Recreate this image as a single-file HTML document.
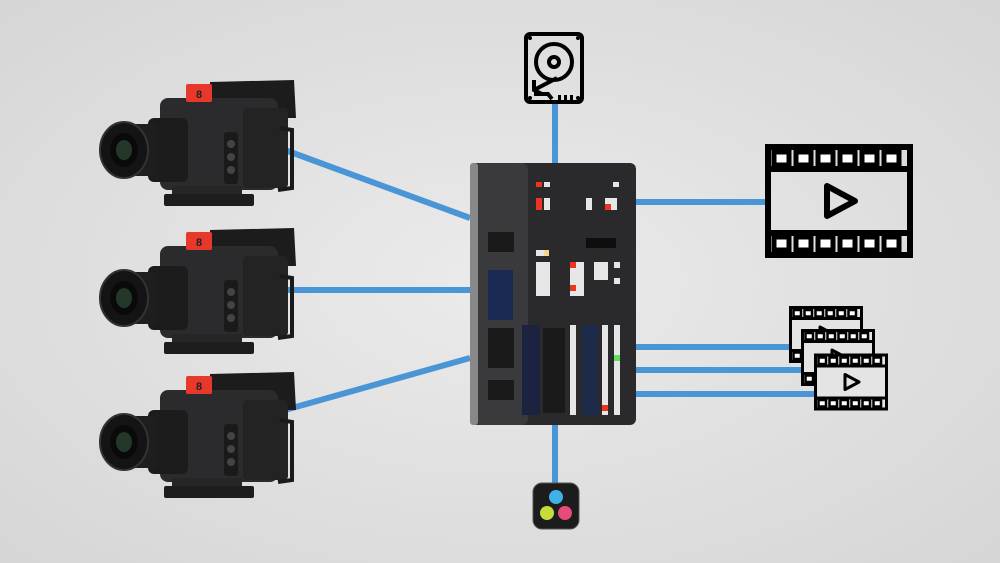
<!DOCTYPE html>
<html><head><meta charset="utf-8"><style>
html,body{margin:0;padding:0;width:1000px;height:563px;overflow:hidden;background:#e2e2e2}
</style></head><body>
<svg width="1000" height="563" viewBox="0 0 1000 563" xmlns="http://www.w3.org/2000/svg">
<defs>
<radialGradient id="bg" cx="50%" cy="50%" r="70%"><stop offset="0" stop-color="#ebebeb"/><stop offset="1" stop-color="#d6d6d6"/></radialGradient>
<symbol id="cam" viewBox="0 0 200 130">
  <path d="M112 4 L196 2 L198 40 L112 40 Z" fill="#1c1c1d"/>
  <rect x="62" y="20" width="118" height="92" rx="8" fill="#2b2b2d"/>
  <rect x="88" y="6" width="26" height="18" rx="2" fill="#e8382a"/>
  <text x="101" y="20" font-family="Liberation Sans, sans-serif" font-size="11" font-weight="bold" text-anchor="middle" fill="#222">8</text>
  <rect x="126" y="54" width="14" height="52" rx="3" fill="#1a1a1a"/>
  <circle cx="133" cy="66" r="4" fill="#444"/><circle cx="133" cy="79" r="4" fill="#444"/><circle cx="133" cy="92" r="4" fill="#444"/>
  <rect x="145" y="30" width="45" height="80" rx="4" fill="#232324"/>
  <path d="M182 50 L194 52 L194 110 L180 112" fill="none" stroke="#1a1a1a" stroke-width="4"/>
  <rect x="50" y="40" width="40" height="64" rx="6" fill="#1c1c1d"/>
  <rect x="24" y="46" width="34" height="52" fill="#1e1e1e"/>
  <ellipse cx="26" cy="72" rx="24" ry="28" fill="#141414" stroke="#333" stroke-width="2"/>
  <ellipse cx="26" cy="72" rx="14" ry="17" fill="#0a0a0a"/>
  <ellipse cx="26" cy="72" rx="8" ry="10" fill="#24382a"/>
  <rect x="74" y="108" width="70" height="10" fill="#262626"/>
  <rect x="66" y="116" width="90" height="12" rx="2" fill="#1d1d1d"/>
</symbol>
<symbol id="film" viewBox="0 0 148 114">
  <rect x="3" y="3" width="142" height="108" fill="none" stroke="#000" stroke-width="6"/>
  <line x1="3" y1="25" x2="145" y2="25" stroke="#000" stroke-width="6"/>
  <line x1="3" y1="89" x2="145" y2="89" stroke="#000" stroke-width="6"/>
  <g fill="#fff" stroke="#000" stroke-width="5">
    <rect x="9" y="8" width="15" height="13"/><rect x="31" y="8" width="15" height="13"/><rect x="53" y="8" width="15" height="13"/><rect x="75" y="8" width="15" height="13"/><rect x="97" y="8" width="15" height="13"/><rect x="119" y="8" width="15" height="13"/>
    <rect x="9" y="93" width="15" height="13"/><rect x="31" y="93" width="15" height="13"/><rect x="53" y="93" width="15" height="13"/><rect x="75" y="93" width="15" height="13"/><rect x="97" y="93" width="15" height="13"/><rect x="119" y="93" width="15" height="13"/>
  </g>
  <path d="M62 42 L90 57 L62 72 Z" fill="none" stroke="#000" stroke-width="6" stroke-linejoin="round"/>
</symbol>
</defs>
<rect width="1000" height="563" fill="url(#bg)"/>
<g stroke="#4a95d6" stroke-width="6" fill="none">
  <line x1="285" y1="150" x2="470" y2="218"/>
  <line x1="285" y1="290" x2="470" y2="290"/>
  <line x1="285" y1="410" x2="470" y2="358"/>
  <line x1="555" y1="100" x2="555" y2="168"/>
  <line x1="555" y1="420" x2="555" y2="487"/>
  <line x1="630" y1="202" x2="768" y2="202"/>
  <line x1="630" y1="347" x2="792" y2="347"/>
  <line x1="630" y1="370" x2="805" y2="370"/>
  <line x1="630" y1="394" x2="818" y2="394"/>
</g>
<use href="#cam" x="98" y="78" width="200" height="130"/>
<use href="#cam" x="98" y="226" width="200" height="130"/>
<use href="#cam" x="98" y="370" width="200" height="130"/>
<!-- switcher -->
<rect x="470" y="163" width="166" height="262" rx="6" fill="#2a2a2c"/>
<rect x="470" y="163" width="58" height="262" rx="6" fill="#3a3a3c"/>
<rect x="470" y="163" width="8" height="262" rx="3" fill="#888"/>
<g fill="#e6e6e6">
<rect x="536" y="182" width="6" height="5" fill="#e32"/><rect x="544" y="182" width="6" height="5"/>
<rect x="536" y="198" width="6" height="12" fill="#e32"/><rect x="544" y="198" width="6" height="12"/>
<rect x="586" y="198" width="6" height="12"/><rect x="605" y="198" width="12" height="12"/><rect x="605" y="204" width="6" height="6" fill="#e32"/>
<rect x="613" y="182" width="6" height="5"/>
<rect x="536" y="250" width="12" height="6"/><rect x="544" y="250" width="5" height="6" fill="#f0d890"/>
<rect x="536" y="262" width="14" height="34"/>
<rect x="570" y="262" width="14" height="34"/><rect x="570" y="262" width="6" height="6" fill="#e32"/><rect x="570" y="285" width="6" height="6" fill="#e32"/>
<rect x="594" y="262" width="14" height="18"/><rect x="614" y="262" width="6" height="6"/><rect x="614" y="278" width="6" height="6"/>
<rect x="570" y="325" width="6" height="90"/><rect x="602" y="325" width="6" height="90"/><rect x="614" y="325" width="6" height="90"/>
</g>
<rect x="586" y="238" width="30" height="10" fill="#0e0e0e"/>
<rect x="488" y="270" width="25" height="50" fill="#1b2a55"/>
<rect x="522" y="325" width="18" height="90" fill="#1b2340"/>
<rect x="582" y="325" width="16" height="90" fill="#1e2a4a"/>
<rect x="614" y="355" width="6" height="6" fill="#5ee05a"/>
<rect x="602" y="405" width="6" height="6" fill="#e32"/>
<g fill="#1a1a1a">
<rect x="488" y="232" width="26" height="20"/><rect x="488" y="328" width="26" height="40"/><rect x="488" y="380" width="26" height="20"/>
<rect x="543" y="328" width="22" height="85"/>
</g>
<!-- hdd -->
<g fill="none" stroke="#000" stroke-width="4">
<rect x="526" y="34" width="56" height="68" rx="4"/>
<circle cx="554" cy="62" r="18"/>
<circle cx="554" cy="62" r="5"/>
<path d="M542 94 L534 90 L534 80 M534 90 L557 78"/>
<path d="M534 94 H548 L552 99"/>
</g>
<g fill="#000"><rect x="558" y="95" width="3" height="6"/><rect x="564" y="95" width="3" height="6"/><rect x="570" y="95" width="3" height="6"/>
<circle cx="530" cy="38" r="2"/><circle cx="578" cy="38" r="2"/><circle cx="530" cy="98" r="2"/><circle cx="578" cy="98" r="2"/></g>
<!-- films -->
<use href="#film" x="765" y="144" width="148" height="114"/>
<rect x="790" y="307" width="72" height="55" fill="#e4e4e4"/>
<use href="#film" x="789" y="306" width="74" height="57"/>
<rect x="802" y="330" width="72" height="55" fill="#e4e4e4"/>
<use href="#film" x="801" y="329" width="74" height="57"/>
<rect x="815" y="354" width="72" height="56" fill="#e4e4e4"/>
<use href="#film" x="814" y="353" width="74" height="58"/>
<!-- resolve icon -->
<rect x="533" y="483" width="46" height="46" rx="9" fill="#1c1c1c" stroke="#555" stroke-width="1"/>
<circle cx="556" cy="497" r="7" fill="#3fb0e8"/>
<circle cx="547" cy="513" r="7" fill="#c6dc3a"/>
<circle cx="565" cy="513" r="7" fill="#e84a7a"/>
</svg>
</body></html>
